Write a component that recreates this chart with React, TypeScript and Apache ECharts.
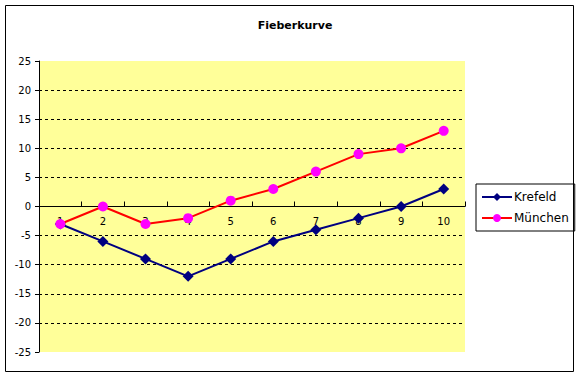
import React, { useEffect, useRef } from "react";
import * as echarts from "echarts";

const categories = ["1", "2", "3", "4", "5", "6", "7", "8", "9", "10"];
const krefeld = [-3, -6, -9, -12, -9, -6, -4, -2, 0, 3];
const muenchen = [-3, 0, -3, -2, 1, 3, 6, 9, 10, 13];
const yMin = -25;
const yMax = 25;
const yStep = 5;

export default function App() {
  const ref = useRef<HTMLDivElement>(null);
  useEffect(() => {
    if (!ref.current) return;
    const chart = echarts.init(ref.current, null, { renderer: "svg" });
    const font = "Tahoma, 'DejaVu Sans', Verdana, sans-serif";
    const gridTop = 61;
    const gridBottom = 24;
    const gridH = 376 - gridTop - gridBottom;
    const zeroOffset = -gridH * (0 - yMin) / (yMax - yMin);
    chart.setOption({
      animation: false,
      backgroundColor: "#ffffff",
      textStyle: { fontFamily: font },
      title: {
        text: "Fieberkurve",
        left: 290,
        textAlign: "center",
        top: 15,
        textStyle: { fontSize: 11, fontWeight: "bold", color: "#000", fontFamily: font },
      },
      graphic: [
        {
          type: "rect",
          shape: { x: 5.5, y: 5.5, width: 568, height: 366 },
          style: { fill: "none", stroke: "#000", lineWidth: 1 },
          z: 100,
        },
      ],
      legend: {
        orient: "vertical",
        left: 476,
        top: 184,
        width: 95,
        borderColor: "#000",
        borderWidth: 1,
        padding: [7, 6, 7, 5],
        itemGap: 9,
        itemWidth: 30,
        itemHeight: 10,
        textStyle: { fontSize: 12, color: "#000", fontFamily: font, padding: [0, 0, 0, -3] },
        data: ["Krefeld", "München"],
      },
      grid: {
        left: 39,
        right: 115,
        top: gridTop,
        bottom: gridBottom,
        show: true,
        backgroundColor: "#FFFF99",
        borderWidth: 0,
      },
      xAxis: {
        type: "category",
        data: categories,
        boundaryGap: true,
        position: "bottom",
        offset: zeroOffset,
        axisLine: { show: true, onZero: false, lineStyle: { color: "#000", width: 1 } },
        axisTick: { show: true, inside: true, length: 5, alignWithLabel: false, lineStyle: { color: "#000" } },
        axisLabel: { fontSize: 10, color: "#000", margin: 10, fontFamily: font },
        splitLine: { show: false },
      },
      yAxis: {
        type: "value",
        min: yMin,
        max: yMax,
        interval: yStep,
        axisLine: { show: true, lineStyle: { color: "#000", width: 1 } },
        axisTick: { show: true, length: 4, lineStyle: { color: "#000" } },
        axisLabel: { fontSize: 10, color: "#000", margin: 8, fontFamily: font },
        splitLine: {
          show: true,
          showMinLine: false,
          showMaxLine: false,
          lineStyle: { color: "#000", type: [3, 3], width: 1 },
        },
      },
      series: [
        {
          name: "Krefeld",
          type: "line",
          data: krefeld,
          symbol: "diamond",
          symbolSize: 11,
          lineStyle: { color: "#000080", width: 2 },
          itemStyle: { color: "#000080" },
          z: 3,
        },
        {
          name: "München",
          type: "line",
          data: muenchen,
          symbol: "circle",
          symbolSize: 10,
          lineStyle: { color: "#FF0000", width: 2 },
          itemStyle: { color: "#FF00FF" },
          z: 4,
        },
      ],
    });
    return () => chart.dispose();
  }, []);
  return (
    <div
      ref={ref}
      style={{ position: "absolute", left: 0, top: 0, width: 580, height: 376 }}
    />
  );
}
